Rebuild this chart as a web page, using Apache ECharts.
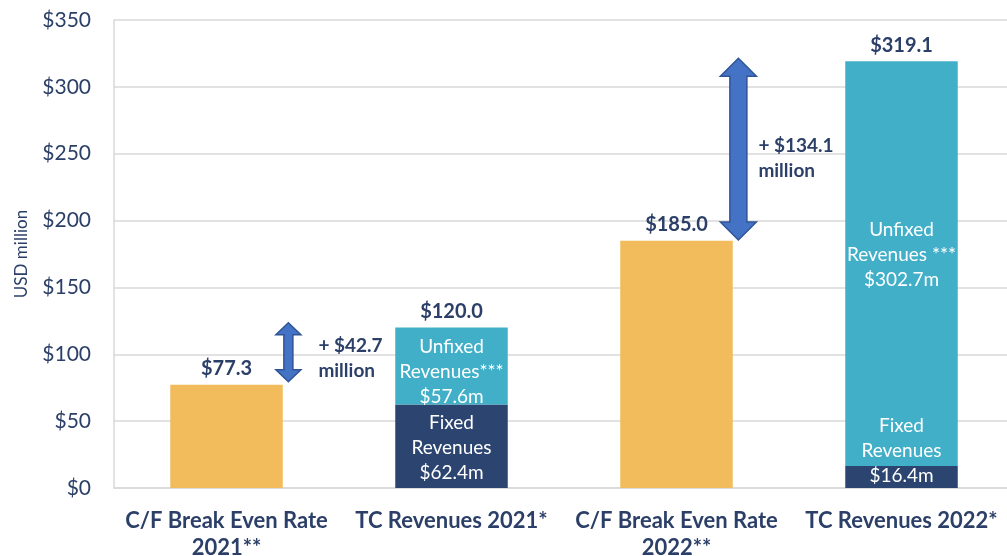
<!DOCTYPE html>
<html>
<head>
<meta charset="utf-8">
<script src="https://cdn.jsdelivr.net/npm/echarts@6/dist/echarts.min.js"></script>
<style>html,body{margin:0;padding:0;background:#fff}#c{width:1007px;height:556px}</style>
</head>
<body>
<div id="c"></div>
<script>
const categories = ['C/F Break Even Rate\n2021**', 'TC Revenues 2021*', 'C/F Break Even Rate\n2022**', 'TC Revenues 2022*'];
const breakEven = [77.3, null, 185.0, null];
const fixedRev = [null, 62.4, null, 16.4];
const unfixedRev = [null, 57.6, null, 302.7];
const totals = [77.3, 120.0, 185.0, 319.1];
const totalLabels = ['$77.3', '$120.0', '$185.0', '$319.1'];
const fixedLabels = [null, 'Fixed\nRevenues\n$62.4m', null, 'Fixed\nRevenues\n$16.4m'];
const unfixedLabels = [null, 'Unfixed\nRevenues***\n$57.6m', null, 'Unfixed\nRevenues ***\n$302.7m'];
const yTicks = [0, 50, 100, 150, 200, 250, 300, 350];
// arrows: [category index, low value, high value]
const arrows = [[0, 79.5, 123.6], [2, 185.5, 321.4]];
const arrowLabels = ['+ $42.7\nmillion', '+ $134.1\nmillion'];

// styling (not data)
const arrowStyles = [
  {head: 25, headLen: 12, shaft: 9, textDx: 30, textDy: 6},
  {head: 36, headLen: 18, shaft: 17, textDx: 20, textDy: 9}
];
const NAVY = '#2b3f68';
const FONT = 'Lato, "Open Sans", sans-serif';

const chart = echarts.init(document.getElementById('c'), null, {renderer: 'canvas'});

const fixedLabelCfg = [null,
  {show: true, position: 'inside', offset: [0, 2]},
  null,
  {show: true, position: 'insideBottom', distance: 0}];
const unfixedLabelCfg = [null,
  {show: true, position: 'inside', offset: [0, 6]},
  null,
  {show: true, position: 'inside', offset: [0, -9]}];

const insideLabelBase = {color: '#ffffff', fontFamily: FONT, fontSize: 19, lineHeight: 25};
const totalLabelBase = {show: true, position: 'top', distance: 6, color: NAVY, fontFamily: FONT, fontWeight: 'bold', fontSize: 20, opacity: 1};

const option = {
  animation: false,
  backgroundColor: '#ffffff',
  grid: {left: 114, right: -7, top: 20, bottom: 68, containLabel: false, outerBoundsMode: 'none'},
  xAxis: {
    type: 'category',
    data: categories,
    axisTick: {show: false},
    axisLine: {show: true, lineStyle: {color: '#d9d9d9', width: 1.5}},
    axisLabel: {color: NAVY, fontFamily: FONT, fontWeight: 'bold', fontSize: 22, lineHeight: 27, margin: 19, interval: 0}
  },
  yAxis: {
    type: 'value',
    min: yTicks[0], max: yTicks[yTicks.length - 1], interval: 50,
    name: 'USD million', nameLocation: 'middle', nameGap: 84,
    nameTextStyle: {color: NAVY, fontFamily: FONT, fontSize: 17},
    axisLine: {show: true, lineStyle: {color: '#d9d9d9', width: 1.5}},
    axisTick: {show: false},
    splitLine: {lineStyle: {color: '#d9d9d9', width: 1.5}},
    axisLabel: {color: NAVY, fontFamily: FONT, fontSize: 21, margin: 23, formatter: v => '$' + v}
  },
  series: [
    {
      name: 'Break Even', type: 'bar', barWidth: '50%', barGap: '-100%',
      itemStyle: {color: '#f2bb5b'},
      data: breakEven
    },
    {
      name: 'Fixed', type: 'bar', stack: 'tc', barWidth: '50%',
      itemStyle: {color: '#2c4470'},
      data: fixedRev.map((v, i) => v == null ? null : {
        value: v,
        label: Object.assign({}, insideLabelBase, fixedLabelCfg[i], {formatter: fixedLabels[i]})
      })
    },
    {
      name: 'Unfixed', type: 'bar', stack: 'tc', barWidth: '50%',
      itemStyle: {color: '#41afc8'},
      data: unfixedRev.map((v, i) => v == null ? null : {
        value: v,
        label: Object.assign({}, insideLabelBase, unfixedLabelCfg[i], {formatter: unfixedLabels[i]})
      })
    },
    {
      name: 'Totals', type: 'scatter', symbolSize: 0, z: 5,
      itemStyle: {opacity: 1, color: 'rgba(0,0,0,0)'},
      data: totals.map((v, i) => ({value: v, label: Object.assign({}, totalLabelBase, {formatter: totalLabels[i]})})),
      label: totalLabelBase
    },
    {
      name: 'Arrows', type: 'custom', z: 6,
      encode: {x: 0, y: [1, 2]},
      data: arrows,
      renderItem: function (params, api) {
        const i = params.dataIndex;
        const st = arrowStyles[i];
        const cat = api.value(0);
        const band = api.size([1, 0])[0];
        const pLo = api.coord([cat, api.value(1)]);
        const pHi = api.coord([cat, api.value(2)]);
        const x = pLo[0] + 0.275 * band;
        const yT = pHi[1], yB = pLo[1];
        const H = st.head / 2, S = st.shaft / 2, L = st.headLen;
        const pts = [
          [x, yT], [x + H, yT + L], [x + S, yT + L], [x + S, yB - L], [x + H, yB - L],
          [x, yB], [x - H, yB - L], [x - S, yB - L], [x - S, yT + L], [x - H, yT + L]
        ];
        return {
          type: 'group',
          children: [
            {type: 'polygon', shape: {points: pts}, style: {fill: '#4472c4', stroke: '#2f5597', lineWidth: 1.5}},
            {type: 'text', style: {
              text: arrowLabels[i], x: x + st.textDx, y: (yT + yB) / 2 + st.textDy,
              fill: NAVY, font: 'bold 19px ' + FONT, lineHeight: 25,
              verticalAlign: 'middle', align: 'left'
            }}
          ]
        };
      }
    }
  ]
};
chart.setOption(option);
</script>
</body>
</html>
